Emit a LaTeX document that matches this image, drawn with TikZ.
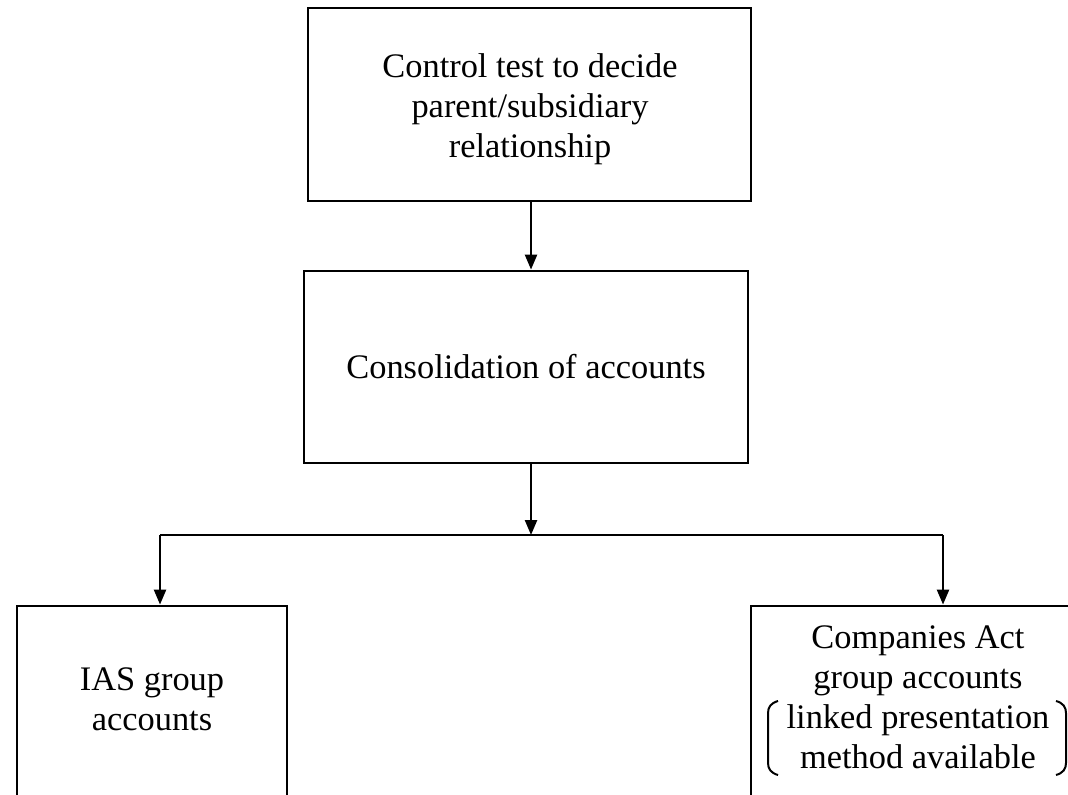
\documentclass[tikz,border=0pt]{standalone}
\usepackage{fontspec}
\setmainfont{Liberation Serif}
\usetikzlibrary{arrows.meta}
\begin{document}
\begin{tikzpicture}[x=0.5pt,y=-0.5pt,
  box/.style={draw=black,line width=1.4pt,rectangle,inner sep=0pt},
  txt/.style={align=center,font=\fontsize{17.2}{20}\selectfont,inner sep=0pt},
  arr/.style={line width=1.2pt,-{Triangle[length=7.5pt,width=6pt]}},
  plain/.style={line width=1.4pt},
  brk/.style={line width=1pt}]
\useasboundingbox (0,0) rectangle (1068,795);
\clip (0,0) rectangle (1068,795);
% boxes
\node[box,minimum width=221.5pt,minimum height=96.5pt] (ctrl) at (529.5,104.5) {};
\node[box,minimum width=222pt,minimum height=96pt,txt] (cons) at (526,367)
  {Consolidation of accounts};
\node[box,minimum width=135pt,minimum height=147pt] (ias) at (152,753) {};
\node[box,minimum width=174.5pt,minimum height=147pt] (ca) at (925.5,753) {};
% texts
\node[txt] (ctrltxt) at (530,109) {Control test to decide\\parent/subsidiary\\relationship};
\node[txt] (iastxt) at (152,699) {IAS group\\accounts};
\node[txt] (catxt) at (918,697) {Companies Act\\group accounts\\linked presentation\\method available};
% brackets
\coordinate (bl) at (778,701);
\coordinate (br) at (1056,701);
\draw[brk] (bl) .. controls (771,703) and (768,707) .. (768,713) -- (768,763)
  .. controls (768,769) and (771,773) .. (778,775);
\draw[brk] (br) .. controls (1063,703) and (1066,707) .. (1066,713) -- (1066,763)
  .. controls (1066,769) and (1063,773) .. (1056,775);
% connectors
\coordinate (j) at (531,535);
\coordinate (jl) at (160,535);
\coordinate (jr) at (943,535);
\draw[arr] (ctrl.south -| j) -- (cons.north -| j);
\draw[arr] (cons.south -| j) -- (j);
\draw[plain] (jl) -- (jr);
\draw[arr] (jl) -- (ias.north -| jl);
\draw[arr] (jr) -- (ca.north -| jr);
\end{tikzpicture}
\end{document}
